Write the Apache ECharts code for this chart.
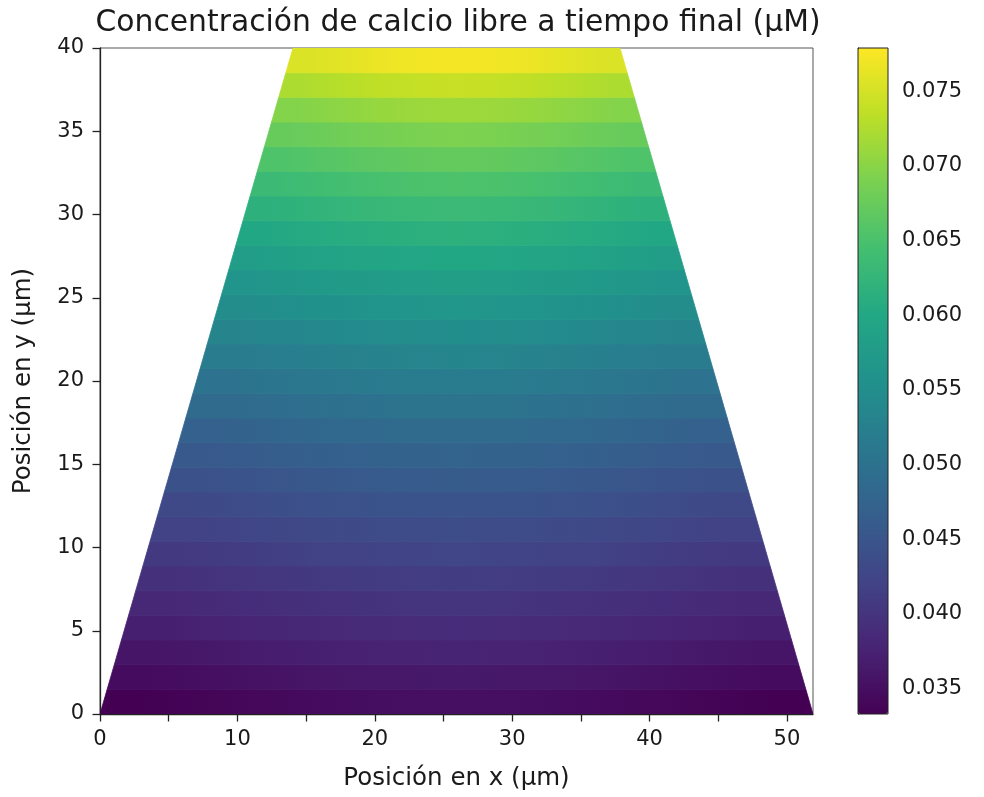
<!DOCTYPE html>
<html>
<head>
<meta charset="utf-8">
<script src="https://cdn.jsdelivr.net/npm/echarts@6/dist/echarts.min.js"></script>
<style>
html,body{margin:0;padding:0;background:#fff;}
#chart{width:984px;height:797px;}
</style>
</head>
<body>
<div id="chart"></div>
<script>
// ---- Data ----
const titleText = 'Concentración de calcio libre a tiempo final (μM)';
const xLabel = 'Posición en x (μm)';
const yLabel = 'Posición en y (μm)';

// Trapezoid domain (µm)
const xBottom = [0, 51.9];     // left/right x at y = 0
const xTop = [14.05, 37.85];   // left/right x at y = 40
const yRange = [0, 40];

const xTicks = [0, 5, 10, 15, 20, 25, 30, 35, 40, 45, 50];
const xTickLabels = [0, 10, 20, 30, 40, 50];
const yTicks = [0, 5, 10, 15, 20, 25, 30, 35, 40];
const cbarTicks = [0.035, 0.040, 0.045, 0.050, 0.055, 0.060, 0.065, 0.070, 0.075];
const cbarRange = [0.0333, 0.0779];

// Concentration (µM): rows from bottom (y=0) to top (y=40), columns across the row width (left to right)
const concentration = [
  [0.0333, 0.0339, 0.0345, 0.0349, 0.0351, 0.0349, 0.0345, 0.0339, 0.0333],
  [0.0346, 0.0352, 0.0358, 0.0362, 0.0364, 0.0362, 0.0358, 0.0352, 0.0346],
  [0.0359, 0.0365, 0.0371, 0.0375, 0.0377, 0.0375, 0.0371, 0.0365, 0.0359],
  [0.0371, 0.0377, 0.0383, 0.0387, 0.0389, 0.0387, 0.0383, 0.0377, 0.0371],
  [0.0383, 0.0389, 0.0395, 0.0399, 0.0401, 0.0399, 0.0395, 0.0389, 0.0383],
  [0.0395, 0.0401, 0.0407, 0.0411, 0.0413, 0.0411, 0.0407, 0.0401, 0.0395],
  [0.0407, 0.0413, 0.0419, 0.0423, 0.0425, 0.0423, 0.0419, 0.0413, 0.0407],
  [0.0419, 0.0425, 0.0431, 0.0435, 0.0437, 0.0435, 0.0431, 0.0425, 0.0419],
  [0.0431, 0.0437, 0.0443, 0.0447, 0.0449, 0.0447, 0.0443, 0.0437, 0.0431],
  [0.0444, 0.0450, 0.0456, 0.0460, 0.0462, 0.0460, 0.0456, 0.0450, 0.0444],
  [0.0457, 0.0463, 0.0469, 0.0473, 0.0475, 0.0473, 0.0469, 0.0463, 0.0457],
  [0.0471, 0.0477, 0.0483, 0.0487, 0.0489, 0.0487, 0.0483, 0.0477, 0.0471],
  [0.0486, 0.0492, 0.0498, 0.0502, 0.0504, 0.0502, 0.0498, 0.0492, 0.0486],
  [0.0501, 0.0507, 0.0513, 0.0517, 0.0519, 0.0517, 0.0513, 0.0507, 0.0501],
  [0.0516, 0.0522, 0.0528, 0.0532, 0.0534, 0.0532, 0.0528, 0.0522, 0.0516],
  [0.0532, 0.0538, 0.0544, 0.0548, 0.0550, 0.0548, 0.0544, 0.0538, 0.0532],
  [0.0548, 0.0554, 0.0560, 0.0564, 0.0566, 0.0564, 0.0560, 0.0554, 0.0548],
  [0.0564, 0.0570, 0.0576, 0.0580, 0.0582, 0.0580, 0.0576, 0.0570, 0.0564],
  [0.0581, 0.0587, 0.0593, 0.0597, 0.0599, 0.0597, 0.0593, 0.0587, 0.0581],
  [0.0598, 0.0604, 0.0610, 0.0614, 0.0616, 0.0614, 0.0610, 0.0604, 0.0598],
  [0.0616, 0.0622, 0.0628, 0.0632, 0.0634, 0.0632, 0.0628, 0.0622, 0.0616],
  [0.0635, 0.0641, 0.0647, 0.0651, 0.0653, 0.0651, 0.0647, 0.0641, 0.0635],
  [0.0654, 0.0660, 0.0666, 0.0670, 0.0672, 0.0670, 0.0666, 0.0660, 0.0654],
  [0.0674, 0.0680, 0.0686, 0.0690, 0.0692, 0.0690, 0.0686, 0.0680, 0.0674],
  [0.0696, 0.0702, 0.0708, 0.0712, 0.0714, 0.0712, 0.0708, 0.0702, 0.0696],
  [0.0724, 0.0730, 0.0736, 0.0740, 0.0742, 0.0740, 0.0736, 0.0730, 0.0724],
  [0.0755, 0.0761, 0.0767, 0.0771, 0.0773, 0.0771, 0.0767, 0.0761, 0.0755]
];

// ---- Build ----
const viridis = ['#440154', '#482475', '#414487', '#355f8d', '#2a788e', '#21918c',
                 '#22a884', '#44bf70', '#7ad151', '#bddf26', '#fde725'];
const nRows = concentration.length;
const nCols = concentration[0].length;
// one data item per row: [rowIndex, v_col0, v_col1, ...]
const rowItems = concentration.map((row, r) => [r].concat(row));

function hexToRgb(h) {
  return [parseInt(h.slice(1, 3), 16), parseInt(h.slice(3, 5), 16), parseInt(h.slice(5, 7), 16)];
}
const viridisRgb = viridis.map(hexToRgb);
function colorFor(v) {
  let t = (v - cbarRange[0]) / (cbarRange[1] - cbarRange[0]);
  t = Math.max(0, Math.min(1, t));
  const p = t * (viridisRgb.length - 1);
  const i = Math.min(Math.floor(p), viridisRgb.length - 2);
  const f = p - i;
  const a = viridisRgb[i], b = viridisRgb[i + 1];
  const c = a.map((x, k) => Math.round(x + (b[k] - x) * f));
  return 'rgb(' + c.join(',') + ')';
}

function leftAt(y) {
  const t = (y - yRange[0]) / (yRange[1] - yRange[0]);
  return xBottom[0] + (xTop[0] - xBottom[0]) * t;
}
function rightAt(y) {
  const t = (y - yRange[0]) / (yRange[1] - yRange[0]);
  return xBottom[1] + (xTop[1] - xBottom[1]) * t;
}

function renderRow(params, api) {
  const r = api.value(0);
  const vals = [];
  for (let c = 0; c < nCols; c++) vals.push(api.value(c + 1));
  const dy = (yRange[1] - yRange[0]) / nRows;
  const y0 = yRange[0] + r * dy, y1 = y0 + dy, ym = (y0 + y1) / 2;
  const pts = [
    api.coord([leftAt(y0), y0]),
    api.coord([rightAt(y0), y0]),
    api.coord([rightAt(y1), y1]),
    api.coord([leftAt(y1), y1])
  ];
  const pl = api.coord([leftAt(ym), ym]);
  const pr = api.coord([rightAt(ym), ym]);
  const stops = [{ offset: 0, color: colorFor(vals[0]) }];
  vals.forEach((v, c) => stops.push({ offset: (c + 0.5) / nCols, color: colorFor(v) }));
  stops.push({ offset: 1, color: colorFor(vals[nCols - 1]) });
  const grad = new echarts.graphic.LinearGradient(pl[0], 0, pr[0], 0, stops, true);
  return {
    type: 'polygon',
    shape: { points: pts },
    style: { fill: grad, stroke: grad, lineWidth: 0.8 }
  };
}

const FONT = 'DejaVu Sans';
const textCol = '#1a1a1a';
const lineCol = '#222';

const chart = echarts.init(document.getElementById('chart'), null, { renderer: 'canvas' });
chart.setOption({
  animation: false,
  backgroundColor: '#fff',
  title: {
    text: titleText,
    left: 453,
    top: 3,
    textAlign: 'center',
    textStyle: { fontFamily: FONT, fontSize: 29.8, fontWeight: 'normal', color: textCol }
  },
  grid: [
    { left: 100, top: 48, width: 713, height: 666, show: true, borderColor: '#555', borderWidth: 1, backgroundColor: 'transparent' },
    { left: 858, top: 48, width: 30, height: 666, show: true, borderColor: '#222', borderWidth: 1, backgroundColor: 'transparent', z: 10 }
  ],
  xAxis: [
    {
      type: 'value', gridIndex: 0, min: xBottom[0], max: xBottom[1],
      name: xLabel, nameLocation: 'middle', nameGap: 52,
      nameTextStyle: { fontFamily: FONT, fontSize: 24.5, color: textCol },
      axisLine: { show: true, lineStyle: { color: lineCol, width: 1.3 } },
      axisTick: { show: true, length: 7.5, customValues: xTicks, lineStyle: { color: lineCol, width: 1.3 } },
      axisLabel: { customValues: xTickLabels, fontFamily: FONT, fontSize: 21, color: textCol, margin: 15 },
      splitLine: { show: false }
    },
    { type: 'value', gridIndex: 1, min: 0, max: 1, show: false }
  ],
  yAxis: [
    {
      type: 'value', gridIndex: 0, min: yRange[0], max: yRange[1],
      name: yLabel, nameLocation: 'middle', nameGap: 64, nameRotate: 90,
      nameTextStyle: { fontFamily: FONT, fontSize: 24.5, color: textCol },
      axisLine: { show: true, lineStyle: { color: lineCol, width: 1.3 } },
      axisTick: { show: true, length: 7.5, customValues: yTicks, lineStyle: { color: lineCol, width: 1.3 } },
      axisLabel: { customValues: yTicks, fontFamily: FONT, fontSize: 21, color: textCol, margin: 16 },
      splitLine: { show: false }
    },
    {
      type: 'value', gridIndex: 1, position: 'right', min: cbarRange[0], max: cbarRange[1],
      axisLine: { show: true, lineStyle: { color: lineCol, width: 1 } },
      axisTick: { show: true, length: 7.5, customValues: cbarTicks, lineStyle: { color: lineCol, width: 1.3 } },
      axisLabel: { customValues: cbarTicks, fontFamily: FONT, fontSize: 21, color: textCol, margin: 14,
                   formatter: v => v.toFixed(3) },
      splitLine: { show: false }
    }
  ],
  visualMap: {
    type: 'continuous',
    seriesIndex: 0,
    dimension: 1,
    min: cbarRange[0],
    max: cbarRange[1],
    orient: 'vertical',
    left: 858,
    top: 48,
    padding: 0,
    itemWidth: 30,
    itemHeight: 666,
    calculable: false,
    hoverLink: false,
    text: null,
    inRange: { color: viridis }
  },
  series: [
    {
      type: 'custom',
      xAxisIndex: 0,
      yAxisIndex: 0,
      clip: true,
      renderItem: renderRow,
      data: rowItems,
      encode: { x: -1, y: -1 }
    }
  ]
});
</script>
</body>
</html>
